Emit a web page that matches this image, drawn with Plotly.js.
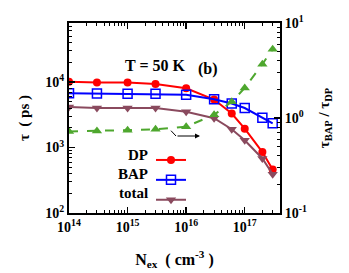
<!DOCTYPE html>
<html>
<head>
<meta charset="utf-8">
<script src="https://cdn.plot.ly/plotly-3.0.1.min.js"></script>
<style>html,body{margin:0;padding:0;background:#fff;}#chart{width:349px;height:273px;}</style>
</head>
<body>
<div id="chart"></div>
<script>
// Excitation density (cm^-3)
var nex = [1e14, 3e14, 1e15, 3e15, 1e16, 3e16, 6e16, 1e17, 2e17, 3e17];
// Spin relaxation times (ps)
var tauDP = [10100, 9800, 9800, 9300, 8000, 5400, 3300, 1940, 850, 460];
var tauBAP = [6700, 6650, 6600, 6600, 6400, 5450, 4700, 4000, 2850, 2340];
var tauTotal = [4150, 4000, 4000, 4000, 3500, 2800, 1900, 1290, 680, 390];
// Ratio tau_BAP / tau_DP (right axis)
var ratio = [0.72, 0.73, 0.745, 0.76, 0.81, 1.08, 1.48, 2.07, 3.69, 5.3];

var xTickVals = [1e14, 1e15, 1e16, 1e17];
var xTickText = ['10<sup>14</sup>', '10<sup>15</sup>', '10<sup>16</sup>', '10<sup>17</sup>'];
var yTickVals = [1e2, 1e3, 1e4];
var yTickText = ['10<sup>2</sup>', '10<sup>3</sup>', '10<sup>4</sup>'];
var y2TickVals = [0.1, 1, 10];
var y2TickText = ['10<sup>-1</sup>', '10<sup>0</sup>', '10<sup>1</sup>'];
var legendLabels = ['DP', 'BAP', 'total'];

function minorVals(lo, hi) {
  var out = [];
  for (var e = lo; e <= hi; e++) {
    for (var m = 2; m <= 9; m++) out.push(m * Math.pow(10, e));
  }
  return out;
}

var traces = [
  {x: nex, y: tauDP, name: '', type: 'scatter', mode: 'lines+markers',
   line: {color: '#ff0000', width: 2},
   marker: {symbol: 'circle', size: 8, color: '#ff0000'}},
  {x: nex, y: tauBAP, name: '', type: 'scatter', mode: 'lines+markers',
   line: {color: '#0000ff', width: 2},
   marker: {symbol: 'square-open', size: 9, color: '#0000ff', line: {width: 1.5}}},
  {x: nex, y: tauTotal, name: '', type: 'scatter', mode: 'lines+markers',
   line: {color: '#8a4a5e', width: 2},
   marker: {symbol: 'triangle-down', size: 9, color: '#8a4a5e'}},
  {x: nex, y: ratio, name: 'ratio', type: 'scatter', mode: 'lines+markers', yaxis: 'y2',
   showlegend: false,
   line: {color: '#4ea72e', width: 2, dash: 'dash'},
   marker: {symbol: 'triangle-up', size: 9, color: '#4ea72e'}}
];

var W = 211, H = 190, L = 69, T = 23;
function px(xp) { return (xp - L) / W; }
function py(yp) { return (T + H - yp) / H; }

var legendRows = [155, 174, 193];
var annotations = [
  {text: 'T = 50 K', x: px(123), y: py(55), xref: 'paper', yref: 'paper', showarrow: false,
   font: {size: 16}},
  {text: '(b)', x: px(220), y: py(58), xref: 'paper', yref: 'paper', showarrow: false,
   font: {size: 16}},
  {text: '', x: px(200), y: py(136), xref: 'paper', yref: 'paper', showarrow: true,
   ax: -24, ay: 0, arrowhead: 2, arrowsize: 1, arrowwidth: 1, arrowcolor: '#000'}
];
for (var i = 0; i < legendLabels.length; i++) {
  annotations.push({text: legendLabels[i], x: px(150), y: py(legendRows[i]), xref: 'paper', yref: 'paper',
    xanchor: 'right', yanchor: 'middle', showarrow: false, font: {size: 15}});
}

var layout = {
  width: 349, height: 273,
  margin: {l: L, r: 349 - L - W, t: T, b: 273 - T - H, pad: 0},
  paper_bgcolor: '#fff', plot_bgcolor: '#fff',
  font: {family: 'Liberation Serif', size: 14, color: '#000', weight: 'bold'},
  showlegend: true,
  legend: {x: px(151), y: py(145), xanchor: 'left', yanchor: 'top', bgcolor: 'rgba(0,0,0,0)',
    borderwidth: 0, font: {size: 13}, tracegroupgap: 0},
  xaxis: {type: 'log', range: [14, Math.log10(4e17)], showgrid: false, zeroline: false,
    showline: true, linecolor: '#000', linewidth: 2, mirror: 'ticks',
    ticks: 'inside', ticklen: 6, tickwidth: 1.5, tickcolor: '#000',
    tickvals: xTickVals, ticktext: xTickText,
    minor: {tickvals: minorVals(14, 17), ticks: 'inside', ticklen: 3, tickwidth: 1, tickcolor: '#000'},
    title: {text: 'N<sub>ex</sub>  ( cm<sup>-3</sup> )', font: {size: 16}, standoff: 20}},
  yaxis: {type: 'log', range: [2, 4.9], showgrid: false, zeroline: false,
    showline: true, linecolor: '#000', linewidth: 2,
    ticks: 'inside', ticklen: 6, tickwidth: 1.5, tickcolor: '#000',
    tickvals: yTickVals, ticktext: yTickText,
    minor: {tickvals: minorVals(2, 4), ticks: 'inside', ticklen: 3, tickwidth: 1, tickcolor: '#000'},
    title: {text: 'τ  ( ps )', font: {size: 15}, standoff: 12}},
  yaxis2: {type: 'log', range: [-1, 1], overlaying: 'y', side: 'right', showgrid: false, zeroline: false,
    showline: true, linecolor: '#000', linewidth: 2,
    ticks: 'inside', ticklen: 6, tickwidth: 1.5, tickcolor: '#000',
    tickvals: y2TickVals, ticktext: y2TickText,
    minor: {tickvals: minorVals(-1, 0), ticks: 'inside', ticklen: 3, tickwidth: 1, tickcolor: '#000'},
    title: {text: 'τ<sub>BAP</sub> / τ<sub>DP</sub>', font: {size: 15}, standoff: 12}},
  shapes: [
    {type: 'line', xref: 'paper', yref: 'paper', x0: px(171), y0: py(130.7), x1: px(176), y1: py(136),
     line: {color: '#000', width: 1}}
  ],
  annotations: annotations
};

Plotly.newPlot('chart', traces, layout, {displayModeBar: false, staticPlot: true});
</script>
</body>
</html>
